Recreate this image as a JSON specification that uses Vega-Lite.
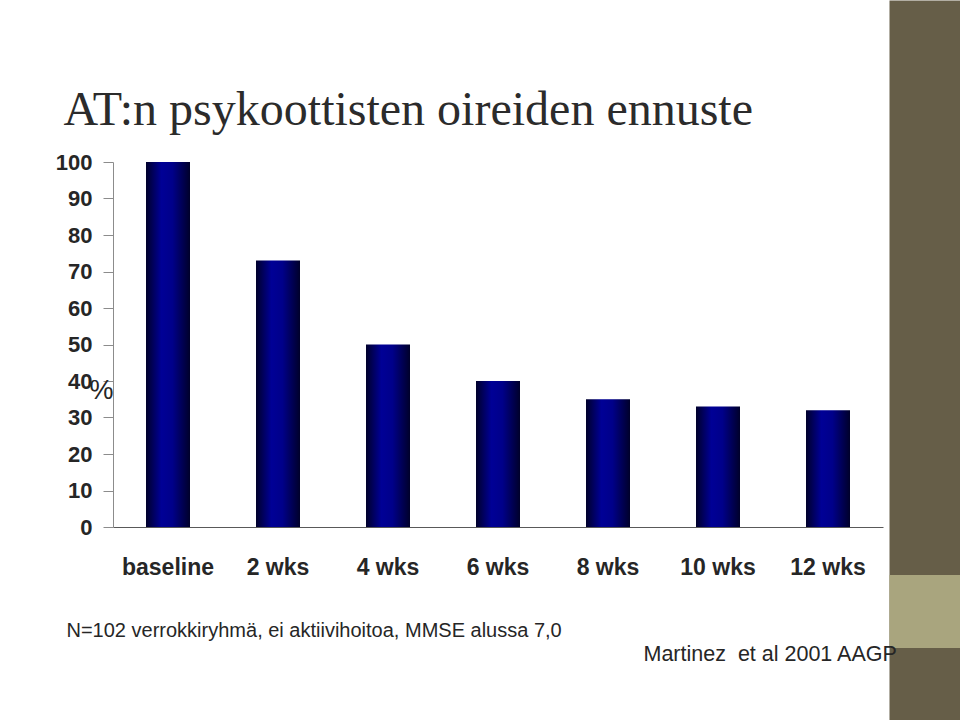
{
  "$schema": "https://vega.github.io/schema/vega-lite/v6.json",
  "width": 770,
  "height": 365,
  "autosize": {"type": "none"},
  "padding": {"left": 113, "top": 162, "right": 77, "bottom": 193},
  "background": "white",
  "config": {
    "view": {"stroke": null},
    "font": "Liberation Sans",
    "axis": {"grid": false}
  },
  "data": {
    "values": [
      {"week": "baseline", "value": 100},
      {"week": "2 wks", "value": 73},
      {"week": "4 wks", "value": 50},
      {"week": "6 wks", "value": 40},
      {"week": "8 wks", "value": 35},
      {"week": "10 wks", "value": 33},
      {"week": "12 wks", "value": 32}
    ]
  },
  "layer": [
    {
      "mark": {
        "type": "bar",
        "color": {
          "gradient": "linear",
          "x1": 0, "y1": 0, "x2": 1, "y2": 0,
          "stops": [
            {"offset": 0, "color": "#00002a"},
            {"offset": 0.35, "color": "#000096"},
            {"offset": 0.6, "color": "#00008a"},
            {"offset": 1, "color": "#00002a"}
          ]
        }
      },
      "encoding": {
        "x": {
          "field": "week",
          "type": "nominal",
          "sort": null,
          "scale": {"paddingInner": 0.6, "paddingOuter": 0.3},
          "axis": {
            "orient": "bottom",
            "ticks": false,
            "tickSize": 0,
            "domainColor": "#595959",
            "domainWidth": 1,
            "labelAngle": 0,
            "labelFont": "Liberation Sans",
            "labelFontWeight": "bold",
            "labelFontSize": 23,
            "labelColor": "#262626",
            "labelBaseline": "alphabetic",
            "labelPadding": 47,
            "title": "N=102 verrokkiryhmä, ei aktiivihoitoa, MMSE alussa 7,0",
            "titleX": -47,
            "titleY": 109,
            "titleAlign": "left",
            "titleAnchor": "start",
            "titleBaseline": "alphabetic",
            "titleFont": "Liberation Sans",
            "titleFontSize": 20,
            "titleFontWeight": "normal",
            "titleColor": "#262626"
          }
        },
        "y": {
          "field": "value",
          "type": "quantitative",
          "scale": {"domain": [0, 100], "nice": false},
          "axis": {
            "orient": "left",
            "values": [0, 10, 20, 30, 40, 50, 60, 70, 80, 90, 100],
            "domainColor": "#8c8c8c",
            "tickColor": "#8c8c8c",
            "tickSize": 10,
            "labelPadding": 11,
            "labelFont": "Liberation Sans",
            "labelFontWeight": "bold",
            "labelFontSize": 22,
            "labelColor": "#262626",
            "title": "%",
            "titleAngle": 0,
            "titleX": -24,
            "titleY": 236,
            "titleAlign": "left",
            "titleBaseline": "alphabetic",
            "titleFont": "Liberation Sans",
            "titleFontSize": 27,
            "titleFontWeight": "normal",
            "titleColor": "#262626"
          }
        }
      }
    },
    {
      "mark": {"type": "point", "opacity": 0},
      "encoding": {
        "x": {
          "field": "value",
          "type": "quantitative",
          "scale": {"domain": [0, 100], "nice": false},
          "axis": {
            "orient": "top",
            "domain": false,
            "ticks": false,
            "labels": false,
            "grid": false,
            "title": "AT:n psykoottisten oireiden ennuste",
            "titleX": -50,
            "titleY": -38,
            "titleAlign": "left",
            "titleAnchor": "start",
            "titleBaseline": "alphabetic",
            "titleFont": "Liberation Serif",
            "titleFontSize": 48,
            "titleFontWeight": "normal",
            "titleColor": "#2b2b2b"
          }
        },
        "y": {
          "field": "value",
          "type": "quantitative",
          "scale": {"domain": [0, 720], "range": [-162, 558], "nice": false, "zero": false},
          "axis": {
            "orient": "right",
            "offset": 6,
            "domain": false,
            "labels": false,
            "grid": false,
            "values": [360, 611.5],
            "tickSize": 71,
            "tickCap": "butt",
            "tickWidth": {"condition": {"test": "datum.value === 360", "value": 720}, "value": 73},
            "tickColor": {"condition": {"test": "datum.value === 360", "value": "#665e48"}, "value": "#a9a57e"},
            "title": "Martinez\u00a0 et al 2001 AAGP",
            "titleAngle": 0,
            "titleX": -246,
            "titleY": 498,
            "titleAlign": "left",
            "titleBaseline": "alphabetic",
            "titleFont": "Liberation Sans",
            "titleFontSize": 21.5,
            "titleFontWeight": "normal",
            "titleColor": "#262626"
          }
        }
      }
    }
  ],
  "resolve": {"scale": {"x": "independent", "y": "independent"}}
}
